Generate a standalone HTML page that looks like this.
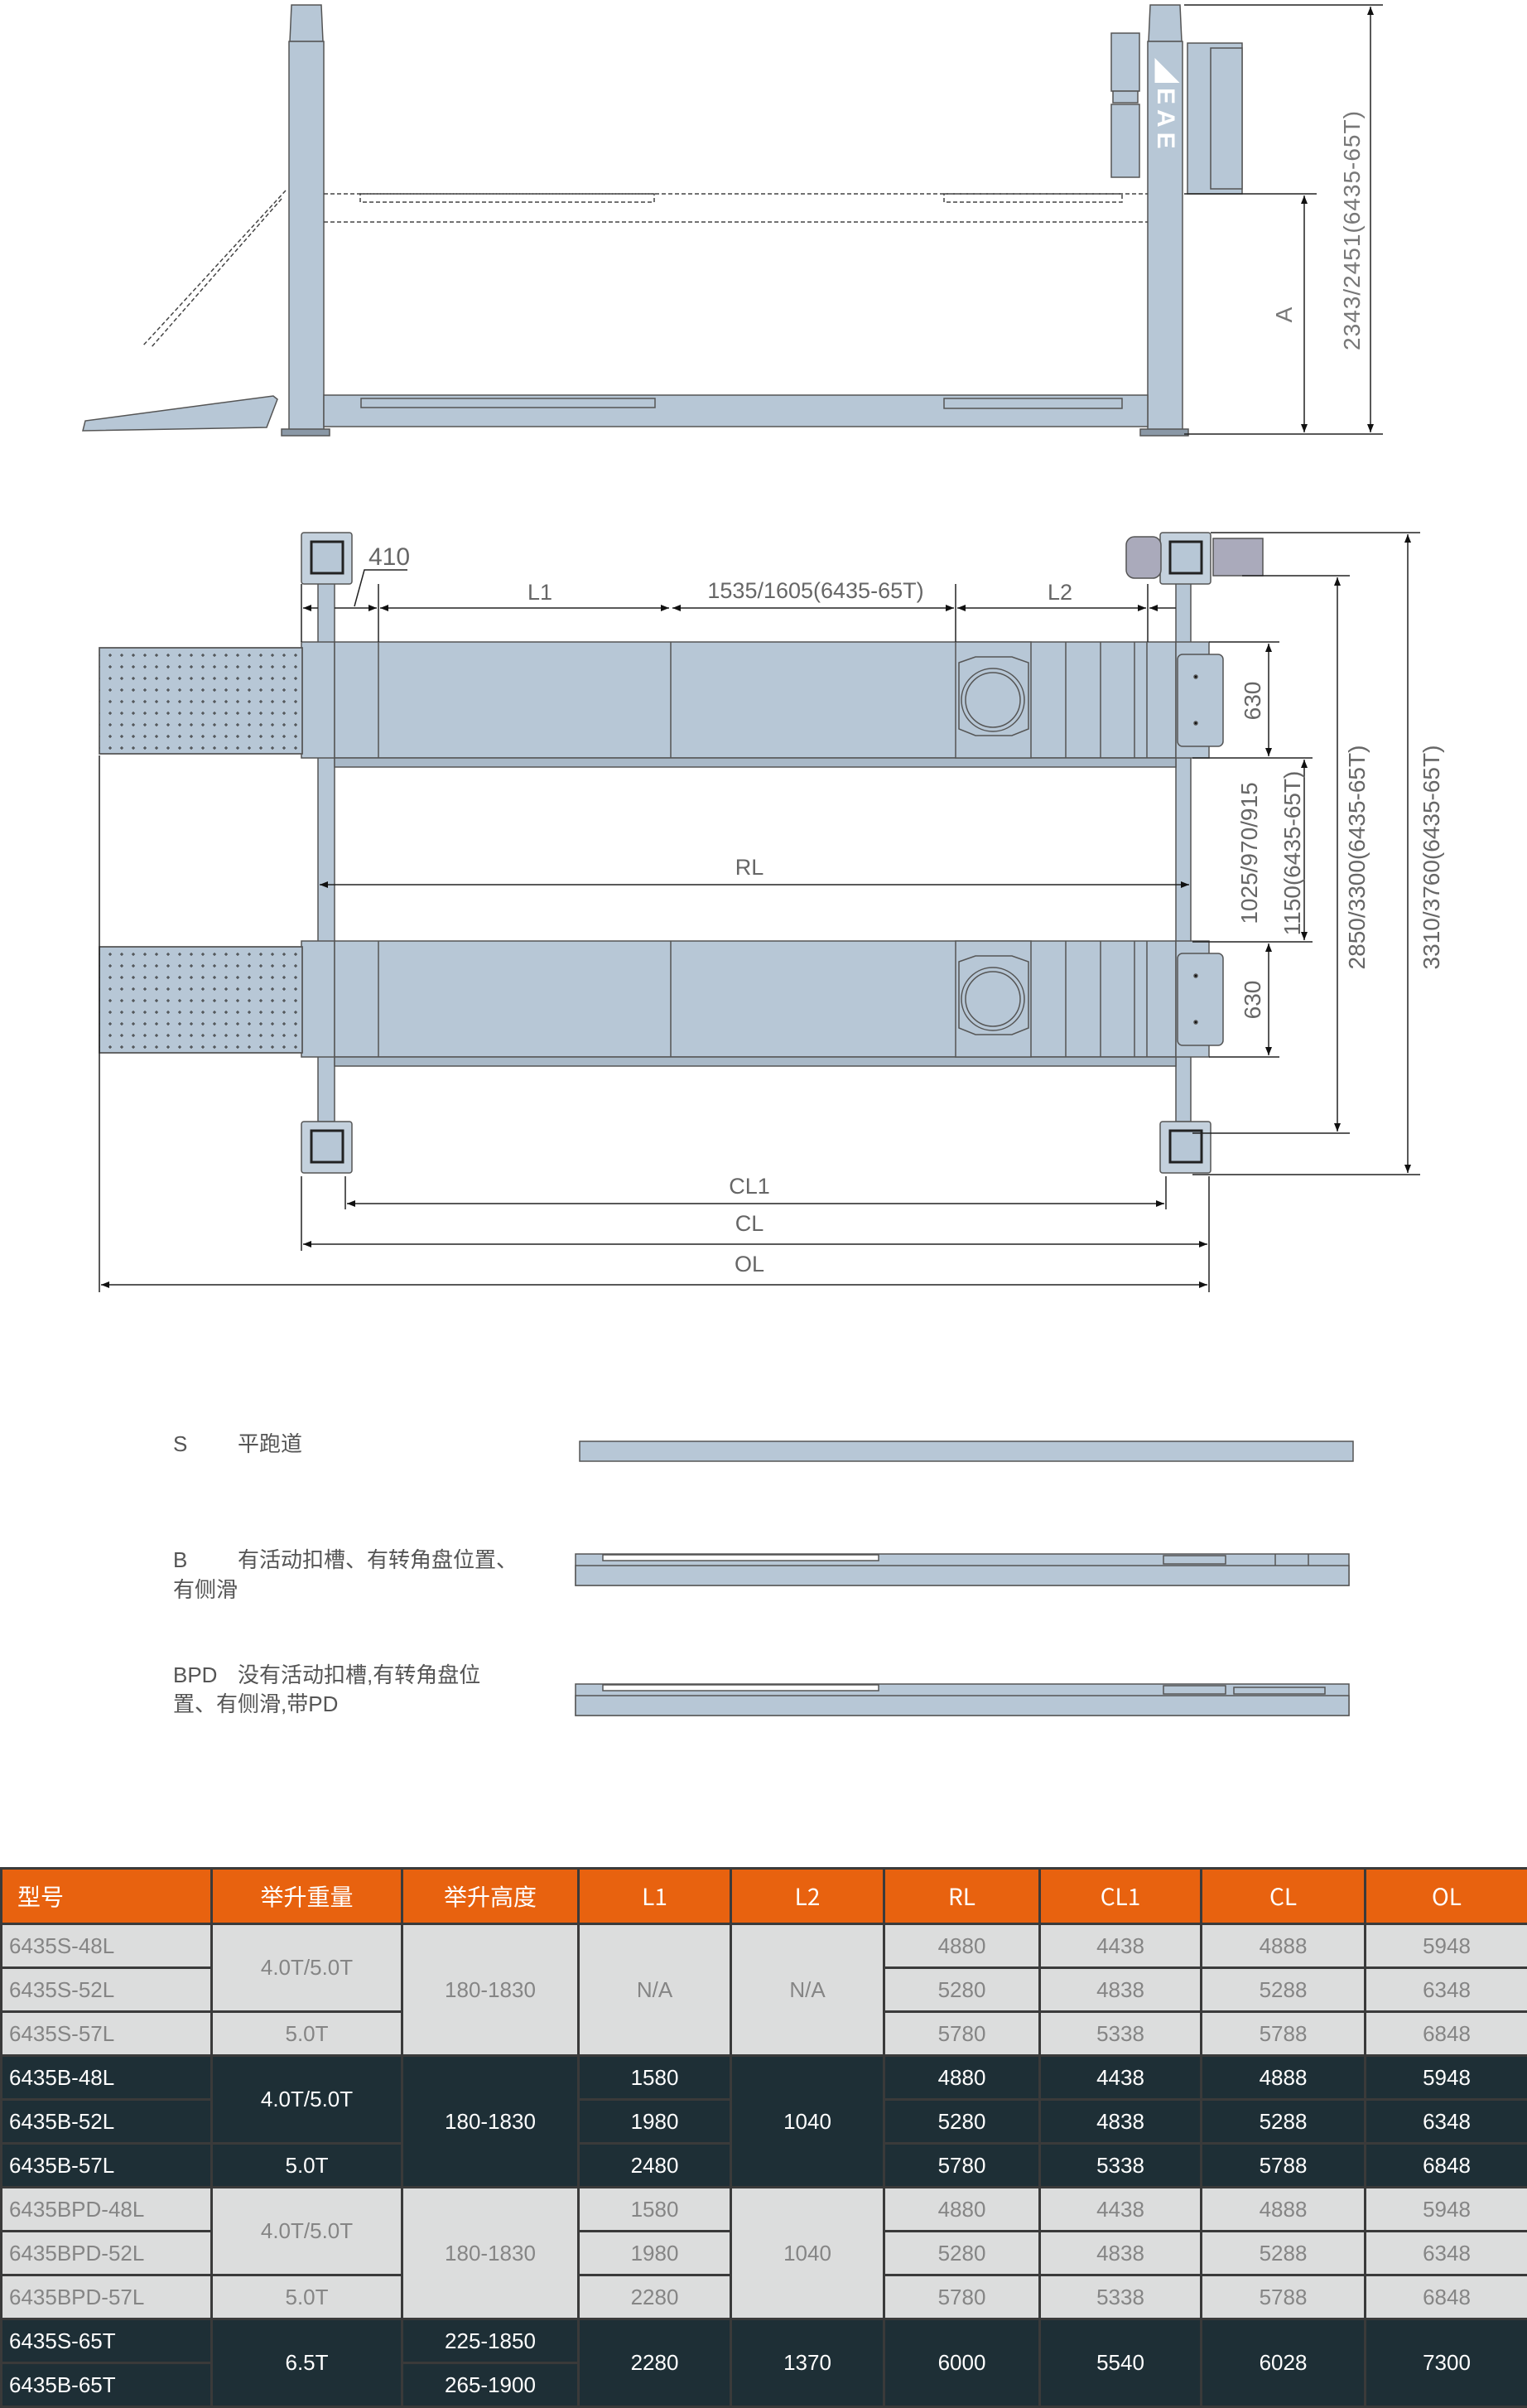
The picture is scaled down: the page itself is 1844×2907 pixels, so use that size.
<!DOCTYPE html>
<html><head><meta charset="utf-8"><style>
html,body{margin:0;padding:0;background:#fff;}
body{width:1844px;height:2907px;position:relative;overflow:hidden;font-family:"Liberation Sans","Noto Sans CJK SC",sans-serif;}
svg{position:absolute;left:0;top:0;}
table{position:absolute;left:0;top:2254px;width:1844px;border-collapse:collapse;table-layout:fixed;font-family:"Liberation Sans Narrow","Liberation Sans","Noto Sans CJK SC",sans-serif;font-size:26px;}
tr{height:53px;}
tr.h{height:67px;}
td,th{border:3px solid #3a3a3a;text-align:center;padding:0;}
th{background:#e8620f;color:#fff;font-weight:normal;font-size:28px;font-family:"Liberation Sans Narrow","Noto Sans CJK SC",sans-serif;}
.l td{background:#dcdddd;color:#858585;}
.d td{background:#1e2f36;color:#fff;}
td.m{text-align:left;padding-left:8px;}
</style></head><body>
<svg width="1844" height="2250" viewBox="0 0 1844 2250" xmlns="http://www.w3.org/2000/svg" font-family="Liberation Sans, Noto Sans CJK SC, sans-serif">
<defs>
<pattern id="dots" width="14" height="14" patternUnits="userSpaceOnUse"><path d="M5 7h4M7 5v4" stroke="#333" stroke-width="1"/></pattern>
<marker id="a" viewBox="0 0 10 10" refX="10" refY="5" markerWidth="14" markerHeight="10" orient="auto-start-reverse" markerUnits="userSpaceOnUse"><path d="M0 1L10 5L0 9z" fill="#111"/></marker>
</defs>
<g stroke="#555" stroke-width="1.5" fill="#b7c7d6">
<path d="M352 6h36l2 44h-40z"/>
<rect x="349" y="50" width="42" height="470"/>
<rect x="340" y="518" width="58" height="8" fill="#8a98a6"/>
<path d="M1389 6h36l2 44h-40z"/>
<rect x="1386" y="50" width="42" height="470"/>
<rect x="1377" y="518" width="58" height="8" fill="#8a98a6"/>
<rect x="391" y="477" width="995" height="38"/>
<rect x="436" y="481" width="355" height="11"/>
<rect x="1140" y="481" width="215" height="12"/>
<path d="M100 520L103 508L330 478L335 482L322 516z"/>
<rect x="1342" y="40" width="34" height="70"/>
<rect x="1344" y="110" width="30" height="14"/>
<rect x="1342" y="126" width="34" height="88"/>
<rect x="1434" y="52" width="66" height="182"/>
<rect x="1462" y="58" width="38" height="170"/>
</g>
<text x="0" y="0" transform="translate(1398,70) rotate(90)" font-size="30" font-weight="bold" fill="#fff" letter-spacing="6">◢EAE</text>
<g stroke="#444" stroke-width="1.5" fill="none" stroke-dasharray="5 3">
<line x1="391" y1="234" x2="1386" y2="234"/>
<line x1="391" y1="268" x2="1386" y2="268"/>
<rect x="435" y="234" width="355" height="10"/>
<rect x="1140" y="234" width="215" height="10"/>
<line x1="345" y1="230" x2="172" y2="418"/>
<line x1="340" y1="240" x2="182" y2="420"/>
</g>
<g stroke="#222" stroke-width="1.5" fill="none">
<line x1="1430" y1="234" x2="1590" y2="234"/>
<line x1="1430" y1="6" x2="1670" y2="6"/>
<line x1="1430" y1="524" x2="1670" y2="524"/>
<line x1="1575" y1="236" x2="1575" y2="522" marker-start="url(#a)" marker-end="url(#a)"/>
<line x1="1655" y1="8" x2="1655" y2="522" marker-start="url(#a)" marker-end="url(#a)"/>
</g>
<g fill="#777" font-size="28">
<text transform="translate(1560,380) rotate(-90)" text-anchor="middle">A</text>
<text transform="translate(1642,278) rotate(-90)" text-anchor="middle" letter-spacing="1">2343/2451(6435-65T)</text>
</g>

<g stroke="#555" stroke-width="1.5" fill="#b7c7d6">
<rect x="384" y="704" width="20" height="650"/>
<rect x="1420" y="704" width="18" height="650"/>
<g id="rw">
<rect x="364" y="775" width="40" height="140"/>
<rect x="404" y="775" width="1016" height="140"/>
<rect x="404" y="915" width="1016" height="11" fill="#a9b9c8"/>
<line x1="457" y1="775" x2="457" y2="915"/>
<line x1="810" y1="775" x2="810" y2="915"/>
<rect x="1154" y="775" width="91" height="140"/>
<path d="M1158 800l20-7h44l20 7v80l-20 8h-44l-20-8z" fill="none"/>
<circle cx="1199" cy="845" r="38" fill="none"/>
<circle cx="1199" cy="845" r="33" fill="none"/>
<line x1="1287" y1="775" x2="1287" y2="915"/>
<line x1="1329" y1="775" x2="1329" y2="915"/>
<line x1="1370" y1="775" x2="1370" y2="915"/>
<line x1="1385" y1="775" x2="1385" y2="915"/>
<rect x="1420" y="775" width="40" height="140"/>
<rect x="1422" y="790" width="55" height="111" rx="6"/>
<circle cx="1444" cy="817" r="2" fill="#111"/><circle cx="1444" cy="873" r="2" fill="#111"/>
<rect x="120" y="782" width="245" height="128"/>
<rect x="120" y="782" width="245" height="128" fill="url(#dots)"/>
</g>
<use href="#rw" transform="translate(0,361)"/>
<g id="pp">
<rect x="364" y="643" width="61" height="62" rx="3" fill="#c4d1dd"/>
<rect x="376" y="654" width="38" height="38" fill="#b7c7d6" stroke="#222" stroke-width="3"/>
</g>
<use href="#pp" transform="translate(1037,0)"/>
<use href="#pp" transform="translate(0,711)"/>
<use href="#pp" transform="translate(1037,711)"/>
<rect x="1360" y="648" width="42" height="50" rx="10" fill="#aab"/>
<rect x="1465" y="650" width="60" height="45" fill="#aab"/>
</g>
<g stroke="#222" stroke-width="1.5" fill="none">
<line x1="364" y1="705" x2="364" y2="775"/>
<line x1="457" y1="705" x2="457" y2="775"/>
<line x1="1154" y1="705" x2="1154" y2="775"/>
<line x1="1386" y1="705" x2="1386" y2="775"/>
<line x1="366" y1="734" x2="384" y2="734" marker-start="url(#a)"/>
<line x1="404" y1="734" x2="455" y2="734" marker-end="url(#a)"/>
<line x1="459" y1="734" x2="808" y2="734" marker-start="url(#a)" marker-end="url(#a)"/>
<line x1="812" y1="734" x2="1152" y2="734" marker-start="url(#a)" marker-end="url(#a)"/>
<line x1="1156" y1="734" x2="1384" y2="734" marker-start="url(#a)" marker-end="url(#a)"/>
<line x1="1388" y1="734" x2="1420" y2="734" marker-start="url(#a)"/>
<path d="M428 732L440 688H492"/>
<line x1="386" y1="1068" x2="1436" y2="1068" marker-start="url(#a)" marker-end="url(#a)"/>
<line x1="417" y1="1420" x2="417" y2="1460"/><line x1="1408" y1="1420" x2="1408" y2="1460"/>
<line x1="364" y1="1420" x2="364" y2="1510"/><line x1="1460" y1="1420" x2="1460" y2="1560"/>
<line x1="120" y1="912" x2="120" y2="1560"/>
<line x1="419" y1="1453" x2="1406" y2="1453" marker-start="url(#a)" marker-end="url(#a)"/>
<line x1="366" y1="1502" x2="1458" y2="1502" marker-start="url(#a)" marker-end="url(#a)"/>
<line x1="122" y1="1551" x2="1458" y2="1551" marker-start="url(#a)" marker-end="url(#a)"/>
<line x1="1460" y1="775" x2="1545" y2="775"/>
<line x1="1440" y1="915" x2="1585" y2="915"/>
<line x1="1440" y1="1137" x2="1585" y2="1137"/>
<line x1="1460" y1="1276" x2="1545" y2="1276"/>
<line x1="1532" y1="777" x2="1532" y2="913" marker-start="url(#a)" marker-end="url(#a)"/>
<line x1="1532" y1="1139" x2="1532" y2="1274" marker-start="url(#a)" marker-end="url(#a)"/>
<line x1="1575" y1="917" x2="1575" y2="1135" marker-start="url(#a)" marker-end="url(#a)"/>
<line x1="1500" y1="695" x2="1630" y2="695"/>
<line x1="1440" y1="1368" x2="1630" y2="1368"/>
<line x1="1615" y1="697" x2="1615" y2="1366" marker-start="url(#a)" marker-end="url(#a)"/>
<line x1="1462" y1="643" x2="1715" y2="643"/>
<line x1="1440" y1="1418" x2="1715" y2="1418"/>
<line x1="1700" y1="645" x2="1700" y2="1416" marker-start="url(#a)" marker-end="url(#a)"/>
</g>
<g fill="#666" font-size="27" text-anchor="middle">
<text x="470" y="682" font-size="30">410</text>
<text x="652" y="724">L1</text>
<text x="985" y="722">1535/1605(6435-65T)</text>
<text x="1280" y="724">L2</text>
<text x="905" y="1056">RL</text>
<text x="905" y="1441">CL1</text>
<text x="905" y="1486">CL</text>
<text x="905" y="1535">OL</text>
<text transform="translate(1522,846) rotate(-90)" font-size="28">630</text>
<text transform="translate(1522,1207) rotate(-90)" font-size="28">630</text>
<text transform="translate(1518,1030) rotate(-90)" font-size="28">1025/970/915</text>
<text transform="translate(1570,1030) rotate(-90)" font-size="28">1150(6435-65T)</text>
<text transform="translate(1648,1035) rotate(-90)" font-size="28">2850/3300(6435-65T)</text>
<text transform="translate(1738,1035) rotate(-90)" font-size="28">3310/3760(6435-65T)</text>
</g>

<g fill="#555" font-size="26">
<text x="209" y="1752">S</text><text x="287" y="1752">平跑道</text>
<text x="209" y="1892">B</text><text x="287" y="1892">有活动扣槽、有转角盘位置、</text>
<text x="209" y="1928">有侧滑</text>
<text x="209" y="2031">BPD</text><text x="287" y="2031">没有活动扣槽,有转角盘位</text>
<text x="209" y="2066">置、有侧滑,带PD</text>
</g>
<g stroke="#555" stroke-width="1.5" fill="#b7c7d6">
<rect x="700" y="1740" width="934" height="24"/>
<rect x="695" y="1876" width="934" height="38"/>
<rect x="695" y="1890" width="934" height="24"/>
<rect x="728" y="1877" width="333" height="7" fill="#fff"/>
<rect x="1405" y="1878" width="75" height="10"/>
<line x1="1540" y1="1876" x2="1540" y2="1890"/><line x1="1580" y1="1876" x2="1580" y2="1890"/>
<rect x="695" y="2033" width="934" height="38"/>
<rect x="695" y="2047" width="934" height="24"/>
<rect x="728" y="2034" width="333" height="7" fill="#fff"/>
<rect x="1405" y="2035" width="75" height="10"/>
<rect x="1490" y="2037" width="110" height="8"/>
</g>
</svg>
<table>
<colgroup><col style="width:254px"><col style="width:230px"><col style="width:213px"><col style="width:184px"><col style="width:185px"><col style="width:188px"><col style="width:195px"><col style="width:198px"><col style="width:197px"></colgroup>
<tr class="h"><th style="text-align:left;padding-left:18px">型号</th><th>举升重量</th><th>举升高度</th><th>L1</th><th>L2</th><th>RL</th><th>CL1</th><th>CL</th><th>OL</th></tr>
<tr class="l"><td class="m">6435S-48L</td><td rowspan="2">4.0T/5.0T</td><td rowspan="3">180-1830</td><td rowspan="3">N/A</td><td rowspan="3">N/A</td><td>4880</td><td>4438</td><td>4888</td><td>5948</td></tr>
<tr class="l"><td class="m">6435S-52L</td><td>5280</td><td>4838</td><td>5288</td><td>6348</td></tr>
<tr class="l"><td class="m">6435S-57L</td><td>5.0T</td><td>5780</td><td>5338</td><td>5788</td><td>6848</td></tr>
<tr class="d"><td class="m">6435B-48L</td><td rowspan="2">4.0T/5.0T</td><td rowspan="3">180-1830</td><td>1580</td><td rowspan="3">1040</td><td>4880</td><td>4438</td><td>4888</td><td>5948</td></tr>
<tr class="d"><td class="m">6435B-52L</td><td>1980</td><td>5280</td><td>4838</td><td>5288</td><td>6348</td></tr>
<tr class="d"><td class="m">6435B-57L</td><td>5.0T</td><td>2480</td><td>5780</td><td>5338</td><td>5788</td><td>6848</td></tr>
<tr class="l"><td class="m">6435BPD-48L</td><td rowspan="2">4.0T/5.0T</td><td rowspan="3">180-1830</td><td>1580</td><td rowspan="3">1040</td><td>4880</td><td>4438</td><td>4888</td><td>5948</td></tr>
<tr class="l"><td class="m">6435BPD-52L</td><td>1980</td><td>5280</td><td>4838</td><td>5288</td><td>6348</td></tr>
<tr class="l"><td class="m">6435BPD-57L</td><td>5.0T</td><td>2280</td><td>5780</td><td>5338</td><td>5788</td><td>6848</td></tr>
<tr class="d"><td class="m">6435S-65T</td><td rowspan="2">6.5T</td><td>225-1850</td><td rowspan="2">2280</td><td rowspan="2">1370</td><td rowspan="2">6000</td><td rowspan="2">5540</td><td rowspan="2">6028</td><td rowspan="2">7300</td></tr>
<tr class="d"><td class="m">6435B-65T</td><td>265-1900</td></tr>
</table>
</body></html>
